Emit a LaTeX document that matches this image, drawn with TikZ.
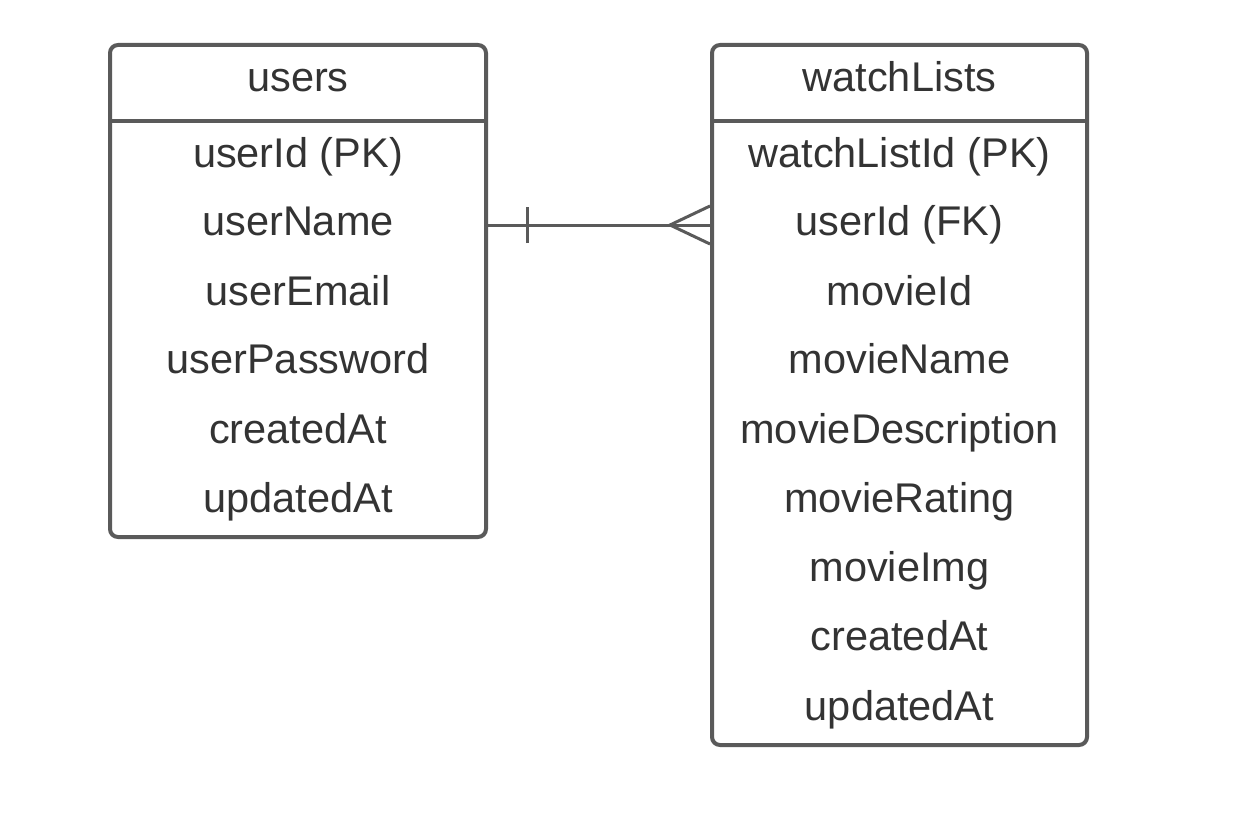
\documentclass[tikz,border=0pt]{standalone}
\usepackage{fontspec}
\setmainfont{Liberation Sans}
\definecolor{edge}{HTML}{5A5A5A}
\definecolor{txt}{HTML}{333333}
\begin{document}
\begin{tikzpicture}[x=1pt,y=-1pt,
  tbl/.style={draw=edge,line width=4pt,rounded corners=8pt,inner sep=0pt,fill=white},
  fld/.style={anchor=base,inner sep=0pt,text=txt,font=\fontsize{41.5}{48}\selectfont},
  conn/.style={draw=edge,line width=3pt}]
\useasboundingbox (0,0) rectangle (1244,824);
% users table
\node[tbl,minimum width=376pt,minimum height=492pt] (users) at (298,291) {};
\draw[edge,line width=4pt] (110,121) -- (486,121);
\node[fld] (uh) at (298,92) {users};
\node[fld] (u1) at (298,167) {userId (PK)};
\node[fld] (u2) at (298,235) {userName};
\node[fld] (u3) at (298,305) {userEmail};
\node[fld] (u4) at (298,373) {userPassword};
\node[fld] (u5) at (298,443) {createdAt};
\node[fld] (u6) at (298,512) {updatedAt};
% watchLists table
\node[tbl,minimum width=375pt,minimum height=700pt] (wl) at (899.5,395) {};
\draw[edge,line width=4pt] (712,121) -- (1087,121);
\node[fld] (wh) at (899.5,92) {watchLists};
\node[fld] (w1) at (899.5,167) {watchListId (PK)};
\node[fld] (w2) at (899.5,235) {userId (FK)};
\node[fld] (w3) at (899.5,305) {movieId};
\node[fld] (w4) at (899.5,373) {movieName};
\node[fld] (w5) at (899.5,443) {movieDescription};
\node[fld] (w6) at (899.5,512) {movieRating};
\node[fld] (w7) at (899.5,581) {movieImg};
\node[fld] (w8) at (899.5,650) {createdAt};
\node[fld] (w9) at (899.5,720) {updatedAt};
% relationship
\coordinate (ra) at (users.east |- 0,225);
\coordinate (rb) at (wl.west |- 0,225);
\coordinate (tick) at (527,225);
\coordinate (apex) at (670,225);
\draw[conn] (ra) -- (rb);
\draw[conn] ([yshift=-18pt]tick) -- ([yshift=18pt]tick);
\draw[conn] ([yshift=-19pt]rb) -- (apex) -- ([yshift=19pt]rb);
\end{tikzpicture}
\end{document}
